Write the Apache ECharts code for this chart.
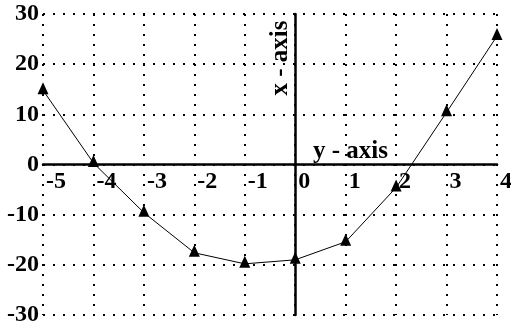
<!DOCTYPE html>
<html>
<head>
<meta charset="utf-8">
<script src="https://cdn.jsdelivr.net/npm/echarts@6/dist/echarts.min.js"></script>
<style>
html,body{margin:0;padding:0;background:#fff;}
#chart{width:511px;height:325px;}
</style>
</head>
<body>
<div id="chart"></div>
<script>
// Data
const xValues = [-5, -4, -3, -2, -1, 0, 1, 2, 3, 4];
const yValues = [14.8, 0.3, -9.6, -17.6, -19.8, -19.0, -15.4, -4.6, 10.4, 25.6];
const xTicks = { min: -5, max: 4, interval: 1 };
const yTicks = { min: -30, max: 30, interval: 10 };
const horizontalAxisTitle = 'y - axis';
const verticalAxisTitle = 'x - axis';

const FONT = 'Liberation Serif';
const dotted = { color: '#000', width: 2, type: [2, 8], cap: 'butt' };

const points = xValues.map((x, i) => [x, yValues[i]]);

const labelStyle = {
  color: '#000', fontFamily: FONT, fontWeight: 'bold', fontSize: 24
};

const H = 325, GRID_TOP = 14, GRID_BOTTOM = 10;
const plotH = H - GRID_TOP - GRID_BOTTOM;
// move the horizontal axis from the bottom edge up to the y = 0 position
const zeroOffset = -plotH * (0 - yTicks.min) / (yTicks.max - yTicks.min);

const chart = echarts.init(document.getElementById('chart'), null, { renderer: 'canvas' });
chart.setOption({
  animation: false,
  backgroundColor: '#fff',
  textStyle: { fontFamily: FONT, fontWeight: 'bold' },
  grid: { left: 43, right: 14, top: GRID_TOP, bottom: GRID_BOTTOM, containLabel: false, outerBoundsMode: 'none' },
  xAxis: {
    type: 'value',
    position: 'bottom',
    offset: zeroOffset,
    min: xTicks.min, max: xTicks.max, interval: xTicks.interval,
    axisLine: { show: true, onZero: false, lineStyle: { color: '#000', width: 2.5 } },
    axisTick: { show: false },
    axisLabel: Object.assign({
      show: true, align: 'left', margin: 5, padding: [0, 0, 0, 3],
      showMinLabel: true, showMaxLabel: true, hideOverlap: false
    }, labelStyle),
    splitLine: { show: true, lineStyle: dotted }
  },
  yAxis: [{
    type: 'value',
    min: yTicks.min, max: yTicks.max, interval: yTicks.interval,
    position: 'left',
    axisLine: { show: false, onZero: false },
    axisTick: { show: false },
    axisLabel: Object.assign({
      show: true, margin: 4, showMinLabel: true, showMaxLabel: true
    }, labelStyle),
    splitLine: { show: true, lineStyle: dotted }
  }, {
    type: 'value',
    min: yTicks.min, max: yTicks.max, interval: yTicks.interval,
    position: 'right',
    axisLine: { show: true, onZero: true, lineStyle: { color: '#000', width: 2.5 } },
    axisTick: { show: false },
    axisLabel: { show: false },
    splitLine: { show: false }
  }],
  graphic: [{
    type: 'text',
    left: 313, top: 139,
    style: { text: horizontalAxisTitle, fill: '#000', fontFamily: FONT, fontWeight: 'bold', fontSize: 25 }
  }, {
    type: 'text',
    x: 281, y: 58,
    rotation: Math.PI / 2,
    style: { text: verticalAxisTitle, fill: '#000', fontFamily: FONT, fontWeight: 'bold', fontSize: 25,
             align: 'center', verticalAlign: 'middle' }
  }],
  series: [{
    type: 'line',
    data: points,
    yAxisIndex: 0,
    symbol: 'triangle',
    symbolSize: [11, 12],
    symbolOffset: [0, -2],
    showAllSymbol: true,
    lineStyle: { color: '#000', width: 1 },
    itemStyle: { color: '#000', borderWidth: 0 },
    z: 5
  }]
});
</script>
</body>
</html>
